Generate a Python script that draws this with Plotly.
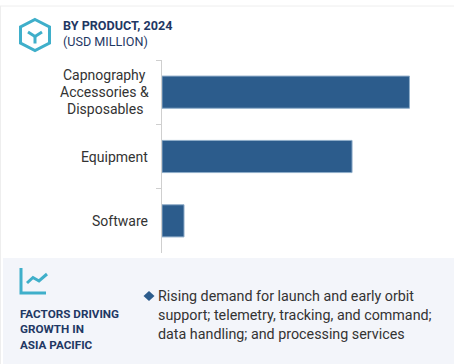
import plotly.graph_objects as go

categories = ["Capnography<br>Accessories &<br>Disposables", "Equipment", "Software"]
values = [100, 76.8, 8.9]

W, H = 454, 364
def X(p): return p / W
def Y(p): return 1 - p / H

NAVY = "#1f3864"
TEAL = "#3fafca"
FONT = "Roboto"

def path(points, close=False):
    s = "M " + " L ".join(f"{X(a):.5f},{Y(b):.5f}" for a, b in points)
    return s + (" Z" if close else "")

shapes = [
    dict(type="rect", xref="paper", yref="paper", x0=X(3), x1=X(454), y0=Y(258), y1=Y(364),
         fillcolor="#f3f5fa", line_width=0, layer="below"),
    dict(type="line", xref="paper", yref="paper", x0=X(0), x1=X(454), y0=Y(6), y1=Y(6),
         line=dict(color="#eeeeee", width=1), layer="below"),
    dict(type="line", xref="paper", yref="paper", x0=X(0.5), x1=X(0.5), y0=Y(6), y1=Y(364),
         line=dict(color="#eeeeee", width=1), layer="below"),
    dict(type="path", xref="paper", yref="paper",
         path=path([(35, 19.5), (49.5, 27), (49.5, 43), (35, 50.5), (20.5, 43), (20.5, 27)], True),
         line=dict(color=TEAL, width=3)),
    dict(type="path", xref="paper", yref="paper",
         path=path([(28, 32), (35, 36.5), (42, 32)]), line=dict(color=TEAL, width=3)),
    dict(type="line", xref="paper", yref="paper", x0=X(35), x1=X(35), y0=Y(36.5), y1=Y(43.5),
         line=dict(color=TEAL, width=3)),
    dict(type="path", xref="paper", yref="paper",
         path=path([(21, 268), (21, 293), (46, 293)]), line=dict(color=TEAL, width=3)),
    dict(type="path", xref="paper", yref="paper",
         path=path([(27, 283), (33, 277.5), (39, 281), (47, 274)]), line=dict(color=TEAL, width=3)),
    dict(type="path", xref="paper", yref="paper",
         path=path([(149, 291), (154.5, 296), (149, 301), (143.5, 296)], True),
         fillcolor="#2c5c8c", line_width=0),
]

def note(x, y, text, size, color, bold=False):
    return dict(xref="paper", yref="paper", x=X(x), y=Y(y), xanchor="left", yanchor="middle",
                text=f"<b>{text}</b>" if bold else text, showarrow=False, align="left",
                font=dict(family=FONT, size=size, color=color), borderpad=0, borderwidth=0)

annotations = [
    note(63, 26, "BY PRODUCT, 2024", 12.6, NAVY, True),
    note(63, 41, "(USD MILLION)", 12.6, NAVY),
    note(20, 313.5, "FACTORS DRIVING", 11.7, NAVY, True),
    note(20, 329, "GROWTH IN", 11.7, NAVY, True),
    note(20, 344.5, "ASIA PACIFIC", 11.7, NAVY, True),
    note(158, 296, "Rising demand for launch and early orbit", 14.3, "#333333"),
    note(158, 315, "support; telemetry, tracking, and command;", 14.3, "#333333"),
    note(158, 334, "data handling; and processing services", 14.3, "#333333"),
]
# Category labels: one text per line, so the line spacing can match the reference
LINE_GAP = 16.7
for c in categories:
    lines = c.split("<br>")
    for i, line in enumerate(lines):
        multi = len(lines) > 1
        annotations.append(dict(
            xref="paper", yref="y", x=X(104.5 if multi else 150), y=c,
            yshift=-(i - (len(lines) - 1) / 2) * LINE_GAP,
            xanchor="center" if multi else "right", yanchor="middle",
            text=line, showarrow=False,
            font=dict(family=FONT, size=14, color="#333333")))

fig = go.Figure(go.Bar(
    y=categories, x=values, orientation="h", width=0.5,
    marker=dict(color="#2c5c8c", line=dict(color="#8fadc9", width=1)),
    hoverinfo="skip",
))
fig.update_layout(
    width=W, height=H, margin=dict(l=0, r=0, t=0, b=0),
    paper_bgcolor="white", plot_bgcolor="white", showlegend=False,
    font=dict(family=FONT, size=14, color="#333333"),
    shapes=shapes, annotations=annotations,
)
fig.update_xaxes(domain=[X(162), 1], range=[0, 118], visible=False)
fig.update_yaxes(domain=[Y(253), Y(60)], autorange="reversed", type="category",
                 ticks="outside", tickson="boundaries", ticklen=5, tickcolor="#cfcfcf",
                 showline=True, linecolor="#cfcfcf", linewidth=1, showgrid=False,
                 showticklabels=False)
fig.write_html("out.html", config=dict(displayModeBar=False),
               post_script="document.body.style.margin='0';document.body.style.overflow='hidden';")
